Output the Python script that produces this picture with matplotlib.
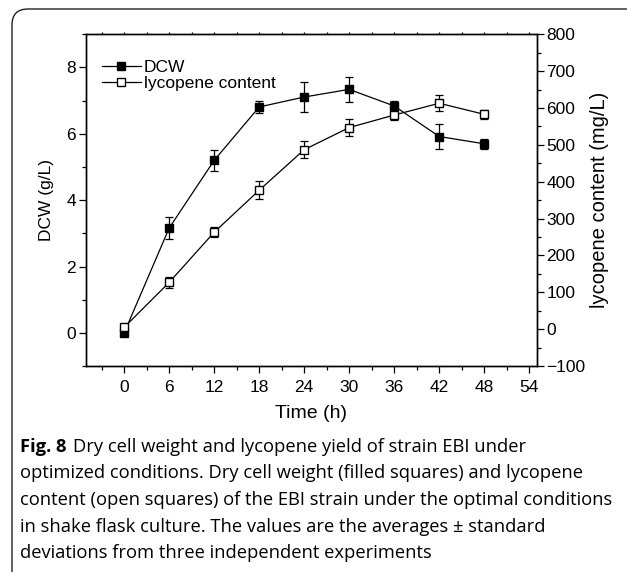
import matplotlib
matplotlib.use("Agg")
import matplotlib.pyplot as plt
from matplotlib.patches import FancyBboxPatch
from matplotlib.lines import Line2D
from matplotlib.ticker import MultipleLocator

# data
time_h = [0, 6, 12, 18, 24, 30, 36, 42, 48]
dcw = [0.0, 3.16, 5.2, 6.81, 7.11, 7.34, 6.84, 5.92, 5.70]
dcw_err = [0.0, 0.34, 0.31, 0.17, 0.45, 0.38, 0.16, 0.39, 0.15]
lycopene = [5, 127, 263, 377, 487, 547, 581, 613, 583]
lycopene_err = [0, 16, 13, 24, 23, 22, 13, 22, 13]

caption_lines = [
    "Dry cell weight and lycopene yield of strain EBI under",
    "optimized conditions. Dry cell weight (filled squares) and lycopene",
    "content (open squares) of the EBI strain under the optimal conditions",
    "in shake flask culture. The values are the averages \u00b1 standard",
    "deviations from three independent experiments",
]

plt.rcParams['font.family'] = ['Liberation Sans', 'DejaVu Sans']

fig = plt.figure(figsize=(6.27, 5.72), dpi=100)
ax = fig.add_axes([0.137, 0.360, 0.719, 0.580])
ax2 = ax.twinx()

# rounded frame round the figure (cut by right and bottom edges)
frame = FancyBboxPatch((0.12, -0.5), 8.0, 6.13,
                       boxstyle="round,pad=0,rounding_size=0.16",
                       transform=fig.dpi_scale_trans, fill=False,
                       edgecolor='#222222', linewidth=1.0, clip_on=False)
fig.patches.append(frame)

ax.errorbar(time_h, dcw, yerr=dcw_err, color='black', marker='s',
            markersize=5.5, markerfacecolor='black', linewidth=0.9,
            elinewidth=0.9, capsize=3, capthick=0.9)
ax2.errorbar(time_h, lycopene, yerr=lycopene_err, color='black', marker='s',
             markersize=5.5, markerfacecolor='white', linewidth=0.9,
             elinewidth=0.9, capsize=3, capthick=0.9)

ax.set_xlim(-5.1, 55)
ax.set_ylim(-1, 9)
ax2.set_ylim(-100, 800)

ax.xaxis.set_major_locator(MultipleLocator(6))
ax.xaxis.set_minor_locator(MultipleLocator(3))
ax.yaxis.set_major_locator(MultipleLocator(2))
ax.yaxis.set_minor_locator(MultipleLocator(1))
ax2.yaxis.set_major_locator(MultipleLocator(100))
ax2.yaxis.set_minor_locator(MultipleLocator(50))
ax.set_xticks(range(0, 55, 6))

ax.tick_params(axis='both', which='major', direction='out', length=5, width=0.9,
               labelsize=12.5, pad=2)
ax.tick_params(axis='x', which='major', pad=5)
ax.tick_params(axis='both', which='minor', direction='out', length=3, width=0.9)
ax.tick_params(axis='x', which='both', top=True, labeltop=False)
for t in ax.xaxis.get_ticklines(minor=False)[1::2] + ax.xaxis.get_ticklines(minor=True)[1::2]:
    t.set_markersize(1.5)
    t.set_color('#bbbbbb')
ax2.tick_params(axis='y', which='major', direction='out', length=5, width=0.9,
                labelsize=12.5, pad=2)
ax2.tick_params(axis='y', which='minor', direction='out', length=3, width=0.9)

for a in (ax, ax2):
    for s in a.spines.values():
        s.set_linewidth(1.0)

ax.set_xlabel("Time (h)", fontsize=14, labelpad=7)
ax.set_ylabel("DCW (g/L)", fontsize=12.5, labelpad=9)
ax2.set_ylabel("lycopene content (mg/L)", fontsize=14.5, labelpad=3)

handles = [
    Line2D([], [], color='black', marker='s', markersize=5.5,
           markerfacecolor='black', linewidth=0.9),
    Line2D([], [], color='black', marker='s', markersize=5.5,
           markerfacecolor='white', linewidth=0.9),
]
ax2.legend(handles, ['DCW', 'lycopene content'], loc='upper left',
           bbox_to_anchor=(0.0, 0.97), frameon=False, fontsize=12.5,
           handlelength=2.3, handletextpad=0.15, labelspacing=0.05,
           borderaxespad=0.5)

# caption
cap_font = ['Open Sans', 'DejaVu Sans']
y0 = 1 - 447 / 572
step = 26.5 / 572
fig.text(20 / 627, y0, "Fig. 8", fontsize=13.2, fontweight='bold',
         family=cap_font, va='center', ha='left')
fig.text(73 / 627, y0, caption_lines[0], fontsize=13.2, family=cap_font,
         va='center', ha='left')
for i, line in enumerate(caption_lines[1:], start=1):
    fig.text(20 / 627, y0 - i * step, line, fontsize=13.2, family=cap_font,
             va='center', ha='left')

fig.savefig("out.png", dpi=100)
